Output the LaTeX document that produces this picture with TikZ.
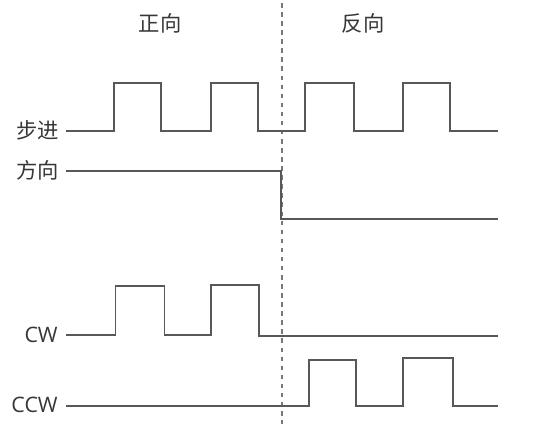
\documentclass[tikz,border=0pt]{standalone}
\usepackage{fontspec}
\setmainfont{Open Sans}
\newfontfamily\cjk{Noto Sans CJK SC}
\usepackage{xcolor}
\definecolor{Col1}{RGB}{88,88,88}
\definecolor{Col2}{RGB}{120,120,120}
\definecolor{Col3}{RGB}{55,55,55}
\usepackage{tikz}
\tikzstyle{Wave}=[draw=Col1,line width=1.1pt,line join=miter]
\tikzstyle{Marker}=[draw=Col2,line width=1.3pt,dash pattern=on 3.4pt off 3.4pt]
\tikzstyle{Label}=[anchor=east,inner sep=0pt,text=Col3,
font=\fontsize{16}{18}\selectfont]
\tikzstyle{Title}=[inner sep=0pt,text=Col3,font=\fontsize{16}{18}\selectfont\cjk]

\begin{document}
\begin{tikzpicture}[x=0.75pt,y=-0.75pt]
        \useasboundingbox(0,0)rectangle(545,430);
        % titles
        \node[Title](fwd)at(160,23){正向};
        \node[Title](rev)at(363,23){反向};
        % signal names
        \node[Label](step)at(59.5,130){\cjk 步进};
        \node[Label](dir)at(59.5,170){\cjk 方向};
        \node[Label](cw)at(58,334.5){CW};
        \node[Label](ccw)at(58,405){CCW};
        % direction change
        \coordinate(m0)at(282,3);
        \coordinate(m1)at(282,424);
        \draw[Marker](m0)--(m1);
        % step
        \coordinate(s0)at(66,131);
        \coordinate(s1)at(114,83);
        \coordinate(s2)at(161,131);
        \coordinate(s3)at(211,83);
        \coordinate(s4)at(258,131);
        \coordinate(s5)at(305,83);
        \coordinate(s6)at(354,131);
        \coordinate(s7)at(403,83);
        \coordinate(s8)at(450,131);
        \coordinate(s9)at(498,131);
        \draw[Wave](s0)-|(s1)-|(s2)-|(s3)-|(s4)-|(s5)-|(s6)-|(s7)-|(s8)--(s9);
        % direction
        \coordinate(d0)at(66,171);
        \coordinate(d1)at(281,219);
        \coordinate(d2)at(498,219);
        \draw[Wave](d0)-|(d1)--(d2);
        % cw
        \coordinate(c0)at(66,335);
        \coordinate(c1)at(115.5,286);
        \coordinate(c2)at(164.5,335);
        \coordinate(c3)at(211,285);
        \coordinate(c4)at(259,336);
        \coordinate(c5)at(498,336);
        \draw[Wave](c0)-|(c1)-|(c2)-|(c3)-|(c4)--(c5);
        % ccw
        \coordinate(w0)at(66,406);
        \coordinate(w1)at(309,360);
        \coordinate(w2)at(356,406);
        \coordinate(w3)at(403,358);
        \coordinate(w4)at(453,406);
        \coordinate(w5)at(498,406);
        \draw[Wave](w0)-|(w1)-|(w2)-|(w3)-|(w4)--(w5);
    \end{tikzpicture}
\end{document}
